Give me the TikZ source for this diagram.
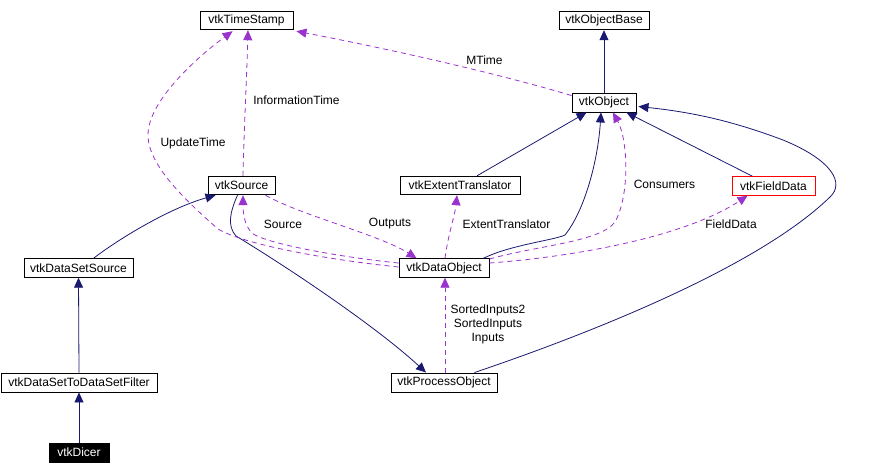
\documentclass[tikz,border=0pt]{standalone}
\usepackage{fontspec}
\setmainfont{Liberation Sans}
\usetikzlibrary{arrows.meta,calc}
\definecolor{navyc}{RGB}{25,25,112}
\definecolor{purpc}{RGB}{154,50,205}
\tikzset{
  cls/.style={draw=black,line width=0.9pt,inner sep=0pt,minimum height=18.5pt,font=\fontsize{12}{14}\selectfont,text=black},
  lbl/.style={font=\fontsize{12}{14}\selectfont,text=black,inner sep=0pt,align=center},
  inh/.style={draw=navyc,line width=0.8pt,-{Triangle[length=10pt,width=9pt]}},
  dep/.style={draw=purpc,line width=0.8pt,dash pattern=on 5pt off 4pt,-{Triangle[length=10pt,width=9pt]}}
}
\begin{document}
\begin{tikzpicture}[x=1pt,y=-1pt]
\useasboundingbox (0,0) rectangle (876,474);
% nodes
\node[cls,minimum width=93pt] (ts) at (246.5,20.5) {vtkTimeStamp};
\node[cls,minimum width=90pt] (base) at (604,20.5) {vtkObjectBase};
\node[cls,minimum width=64pt,minimum height=19pt] (obj) at (604,102.5) {vtkObject};
\node[cls,minimum width=83pt,draw=red] (fd) at (773.5,186) {vtkFieldData};
\node[cls,minimum width=67pt] (src) at (241.5,185.5) {vtkSource};
\node[cls,minimum width=120pt] (et) at (460,185.5) {vtkExtentTranslator};
\node[cls,minimum width=109pt] (dss) at (78.5,268) {vtkDataSetSource};
\node[cls,minimum width=90pt] (dobj) at (444,268) {vtkDataObject};
\node[cls,minimum width=156pt,minimum height=19pt] (dsf) at (79,382.5) {vtkDataSetToDataSetFilter};
\node[cls,minimum width=60pt,minimum height=19pt,fill=black,text=white] (dicer) at (79,452.5) {vtkDicer};
\node[cls,minimum width=106pt,minimum height=19pt] (po) at (444,382.5) {vtkProcessObject};
% inheritance edges
\draw[inh] (obj.north) -- (base.south);
\draw[inh] ($(et.north)+(17,0)$) -- ($(obj.south west)+(15,0)$);
\draw[inh] ($(dobj.north east)+(-6,0)$) .. controls (510,245) and (555,240) .. (565,235)
  .. controls (585,210) and (598,160) .. ($(obj.south)+(-3,0)$);
\draw[inh] ($(fd.north west)+(21,0)$) -- ($(obj.south east)+(-10,0)$);
\draw[inh] ($(po.north east)+(-23,0)$) .. controls (600,330) and (760,265) .. (830,197)
  .. controls (845,183) and (832,160) .. (783,140)
  .. controls (730,120) and (690,112) .. ($(obj.east)+(2,4)$);
\draw[inh] ($(src.south)+(-4,0)$) .. controls (230,212) and (227,226) .. (236,236)
  .. controls (300,275) and (380,330) .. ($(po.north)+(-18,0)$);
\draw[inh] ($(dss.north)+(15,0)$) .. controls (120,238) and (170,208) .. ($(src.south west)+(8,0)$);
\draw[inh] (dsf.north) -- (dss.south);
\draw[inh] (dicer.north) -- (dsf.south);
% dependency edges
\draw[dep] ($(obj.north west)+(0,3)$) .. controls (520,80) and (420,55) .. ($(ts.south east)+(3,1)$);
\draw[dep] ($(src.north)+(1.5,0)$) .. controls (244,130) and (247,70) .. ($(ts.south)+(1.5,0)$);
\draw[dep] ($(dobj.west)+(0,-1)$) .. controls (330,260) and (245,245) .. (218,229)
  .. controls (185,200) and (148,165) .. (148,135)
  .. controls (148,100) and (200,55) .. ($(ts.south west)+(33,1)$);
\draw[dep] ($(dobj.west)+(0,-5)$) .. controls (330,256) and (262,242) .. (252,233)
  .. controls (244,225) and (243,212) .. ($(src.south)+(1.5,0)$);
\draw[dep] ($(src.south east)+(-10,0)$) .. controls (300,215) and (380,235) .. ($(dobj.north west)+(18,0)$);
\draw[dep] ($(dobj.north)+(1,0)$) .. controls (448,235) and (455,215) .. ($(et.south)+(-3,0)$);
\draw[dep] ($(dobj.east)+(0,-9)$) .. controls (540,245) and (600,242) .. (615,222)
  .. controls (630,195) and (628,140) .. ($(obj.south)+(9,0)$);
\draw[dep] ($(dobj.east)+(0,-5)$) .. controls (560,258) and (680,240) .. ($(fd.south west)+(16,0)$);
\draw[dep] ($(po.north)+(1,0)$) -- ($(dobj.south)+(1,0)$);
% labels
\node[lbl] (lmt) at (484.5,60) {MTime};
\node[lbl] (lit) at (296.5,100) {InformationTime};
\node[lbl] (lut) at (193,143) {UpdateTime};
\node[lbl] (lsrc) at (283,224) {Source};
\node[lbl] (lout) at (390,224) {Outputs};
\node[lbl] (let) at (506.5,224) {ExtentTranslator};
\node[lbl] (lcon) at (664.5,184) {Consumers};
\node[lbl] (lfd) at (731,224) {FieldData};
\node[lbl] (lin) at (488,324) {SortedInputs2\\SortedInputs\\Inputs};
\end{tikzpicture}
\end{document}
